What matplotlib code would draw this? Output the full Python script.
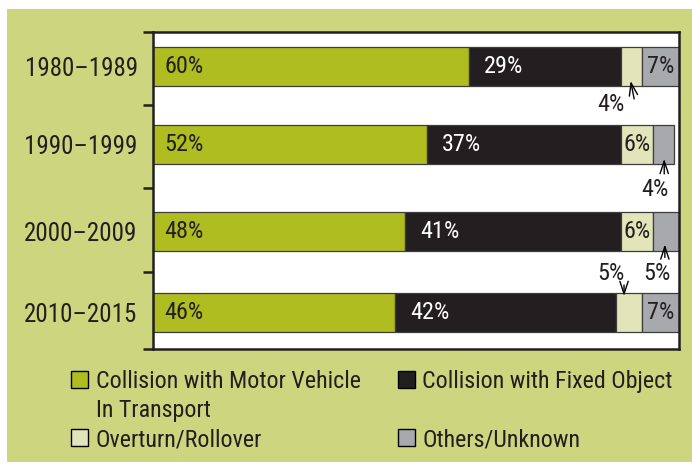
import matplotlib
matplotlib.use("Agg")
import matplotlib.pyplot as plt
import matplotlib.font_manager as fm
from matplotlib.patches import Rectangle
from matplotlib.ticker import FixedLocator

# ---- data ----
decades = ['1980–1989', '1990–1999', '2000–2009', '2010–2015']
motor_vehicle = [60, 52, 48, 46]
fixed_object = [29, 37, 41, 42]
overturn = [4, 6, 6, 5]
others = [7, 4, 5, 7]
series_names = ['Collision with Motor Vehicle', 'Collision with Fixed Object',
                'Overturn/Rollover', 'Others/Unknown']
name_continuation = 'In Transport'

# ---- style ----
def pick(names):
    for n in names:
        try:
            fm.findfont(n, fallback_to_default=False)
            return n
        except Exception:
            pass
    return 'DejaVu Sans'

FONT = pick(['Liberation Sans Narrow', 'Roboto Condensed', 'Noto Sans Condensed', 'Liberation Sans'])
plt.rcParams['font.family'] = [FONT, 'DejaVu Sans']

TXT = '#231f20'
colors = ['#afbd21', '#231f20', '#e2e5b9', '#a7a9ac']
BG = '#cdd57f'
EDGE = '#3d3d3d'

fig = plt.figure(figsize=(6.92, 4.65), dpi=100)
fig.patch.set_facecolor('white')
fig.add_artist(Rectangle((7 / 692, 3 / 465), (692 - 7) / 692, (462 - 9) / 465,
                         transform=fig.transFigure, facecolor=BG, edgecolor='none', zorder=0))

ax = fig.add_axes([153 / 692, 1 - 349 / 465, (679 - 153) / 692, (349 - 32) / 465])
ax.set_facecolor('white')

row_pos = [0, 0.951, 2.018, 3.0]
bar_h = 0.475
series = [motor_vehicle, fixed_object, overturn, others]
lefts = [0] * len(decades)
containers = []
for vals, col in zip(series, colors):
    c = ax.barh(row_pos, vals, left=lefts, height=bar_h, color=col,
                edgecolor=EDGE, linewidth=0.9, zorder=2)
    containers.append(c)
    lefts = [l + v for l, v in zip(lefts, vals)]

ax.set_xlim(0, 100)
top, bottom = -0.42, 3.445
ax.set_ylim(bottom, top)
ax.set_xticks([])
ax.set_yticks(row_pos)
ax.set_yticklabels(decades, fontsize=18, color=TXT)
ax.tick_params(axis='y', which='major', length=0, pad=11)
mids = [(a + b) / 2 for a, b in zip(row_pos[:-1], row_pos[1:])]
ax.yaxis.set_minor_locator(FixedLocator([top] + mids + [bottom]))
ax.tick_params(axis='y', which='minor', length=7.5, width=1.8, color=TXT, direction='out')
for s in ax.spines.values():
    s.set_linewidth(1.8)
    s.set_color(TXT)

PX_X = 526 / 100.0           # pixels per x unit
PX_Y = 317 / (bottom - top)  # pixels per y unit

LFS = 17.5
for i, y in enumerate(row_pos):
    ax.annotate(f'{motor_vehicle[i]}%', xy=(0, y), xytext=(11, 0), textcoords='offset pixels',
                ha='left', va='center', fontsize=LFS, color=TXT, zorder=5)
    ax.annotate(f'{fixed_object[i]}%', xy=(motor_vehicle[i], y), xytext=(15, 0),
                textcoords='offset pixels', ha='left', va='center', fontsize=LFS,
                color='white', zorder=5)

# outside labels: tip dx (px from segment centre), tip depth into bar (px),
# tail offset from tip (px), text offset from tip (px), side
outside = {
    (0, 2): (-1, 5, (3.5, -18), (-20, -24), 'below'),
    (1, 3): (1, 5, (0, -15), (-9, -31), 'below'),
    (2, 3): (-1, 7, (0, -13), (-8, -29), 'below'),
    (3, 2): (-5, 3, (0, 11), (-13, 23), 'above'),
}
for i, y in enumerate(row_pos):
    for si in (2, 3):
        start = sum(series[k][i] for k in range(si))
        v = series[si][i]
        cx = start + v / 2
        if (i, si) in outside:
            tdx, depth, tail, toff, side = outside[(i, si)]
            if side == 'below':
                tip = (cx + tdx / PX_X, y + bar_h / 2 - depth / PX_Y)
            else:
                tip = (cx + tdx / PX_X, y - bar_h / 2 + depth / PX_Y)
            ax.annotate('', xy=tip, xytext=tail, textcoords='offset pixels',
                        arrowprops=dict(arrowstyle='->,head_length=0.9,head_width=0.3',
                                        color='black', lw=1.0, mutation_scale=10,
                                        shrinkA=0, shrinkB=0),
                        annotation_clip=False, zorder=6)
            ax.annotate(f'{v}%', xy=tip, xytext=toff, textcoords='offset pixels',
                        ha='center', va='center', fontsize=LFS, color=TXT, zorder=6)
        else:
            ax.annotate(f'{v}%', xy=(cx, y), ha='center', va='center', fontsize=LFS,
                        color=TXT, zorder=5)

blank = Rectangle((0, 0), 1, 1, facecolor='none', edgecolor='none')
handles = [containers[0], blank, containers[2], containers[1], blank, containers[3]]
labels = [series_names[0], name_continuation, series_names[2],
          series_names[1], ' ', series_names[3]]
leg = fig.legend(handles, labels, loc='upper left', bbox_to_anchor=(71 / 692, 1 - 370 / 465),
                 ncol=2, frameon=False, fontsize=17.3, handlelength=0.72, handleheight=0.72,
                 handletextpad=0.3, columnspacing=1.55, labelspacing=0.25, borderaxespad=0,
                 borderpad=0)
for t in leg.get_texts():
    t.set_color(TXT)
for h in leg.legend_handles:
    if h.get_facecolor()[3] > 0:
        h.set_edgecolor('black')
        h.set_linewidth(1.0)

fig.savefig('out.png', dpi=100, facecolor=fig.get_facecolor())
